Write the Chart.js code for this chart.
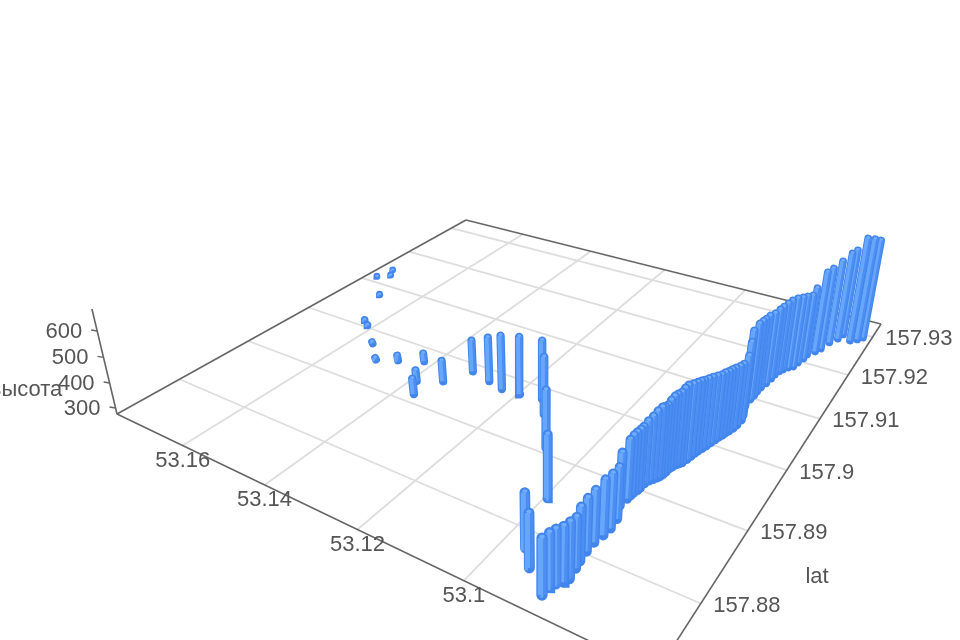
<!DOCTYPE html>
<html><head><meta charset="utf-8"><style>html,body{margin:0;background:#fff}canvas{display:block;filter:blur(0.55px)}</style>
<script src="https://cdn.jsdelivr.net/npm/chart.js@4"></script></head><body><canvas id="c" width="960" height="640"></canvas>
<script>
const latTicks=[157.88,157.89,157.9,157.91,157.92,157.93];
const lonTicks=[53.16,53.14,53.12,53.1];
const heightTicks=[300,400,500,600];
const latCodes=[9139,9125,9113,9072,9009,9001,8968,8942,8954,8968,8931,8909,8946,8980,8973,8967,8969,8974,8951,8903,8839,8774,8756,8736,8746,8752,
8757,8763,8776,8785,8798,8811,8823,8834,8848,8865,8877,8883,8888,8893,8897,8905,8911,8915,8919,8922,8926,8931,8937,8941,8946,8949,
8952,8959,8966,8972,8977,8983,8989,8996,9003,9009,9014,9019,9024,9031,9038,9049,9058,9075,9090,9099,9108,9118,9129,9141,9151,9160,
9166,9173,9178,9189,9201,9212,9223,9233,9252,9266,9279,9269,9276,9284];
const lonCodes=[1743,1729,1753,1683,1630,1610,1546,1498,1459,1413,1380,1356,1337,1310,1263,1227,1189,1146,1117,1061,989,957,930,887,886,882,
875,871,874,876,878,878,874,872,874,885,883,882,881,879,878,877,874,870,866,864,862,861,860,858,855,852,
849,846,844,842,840,837,834,831,828,826,823,821,818,815,813,812,815,823,823,822,822,821,818,816,815,812,
808,802,795,792,788,787,777,771,764,754,750,731,720,712];
const heights=[285,285,283,290,294,294,311,314,327,340,351,370,391,434,484,521,535,537,529,524,536,500,496,499,493,494,
497,501,483,494,492,490,502,500,491,497,519,523,524,526,528,533,540,553,562,560,559,567,571,572,572,583,
590,584,578,574,569,566,563,557,551,550,548,547,546,543,540,553,587,598,601,598,592,590,584,582,579,580,
585,586,586,576,565,579,632,637,644,662,660,728,721,710];
const latRange=[157.872,157.9337], lonRange=[53.07,53.178], zRange=[275.5,681];
const Q=[[117,414],[656,673],[881,324],[466,220]], VP=[541,2190], LAM=-1.376e-4;
const [x0,y0]=Q[0],[x1,y1]=Q[1],[x2,y2]=Q[2],[x3,y3]=Q[3];
const dx1=x1-x2,dx2=x3-x2,sx=x0-x1+x2-x3,dy1=y1-y2,dy2=y3-y2,sy=y0-y1+y2-y3,den=dx1*dy2-dx2*dy1;
const g=(sx*dy2-dx2*sy)/den,h=(dx1*sy-sx*dy1)/den;
const a=x1-x0+g*x1,b=x3-x0+h*x3,c=x0,d=y1-y0+g*y1,e=y3-y0+h*y3,f=y0;
function P(lat,lon,z){const u=(lonRange[1]-lon)/(lonRange[1]-lonRange[0]),v=(lat-latRange[0])/(latRange[1]-latRange[0]);
 const k=LAM*(z-zRange[0]);const W=g*u+h*v+1;return {x:(a*u+b*v+c+k*VP[0])/(W+k),y:(d*u+e*v+f+k*VP[1])/(W+k),w:W};}
const ds=[];
function line(pts,color,width,cap){ds.push({data:pts,borderColor:color,borderWidth:width,borderCapStyle:cap||'butt',showLine:true,pointRadius:0,fill:false});}
const LMIN=lonRange[0],LMAX=lonRange[1],AMIN=latRange[0],AMAX=latRange[1],Z0=zRange[0];
latTicks.forEach(t=>line([P(t,LMIN,Z0),P(t,LMAX,Z0)],'#dddddd',1.8));
lonTicks.forEach(t=>line([P(AMIN,t,Z0),P(AMAX,t,Z0)],'#dddddd',1.8));
[[AMIN,LMAX,AMAX,LMAX],[AMAX,LMAX,AMAX,LMIN],[AMIN,LMAX,AMIN,LMIN],[AMIN,LMIN,AMAX,LMIN]].forEach(s=>line([P(s[0],s[1],Z0),P(s[2],s[3],Z0)],'#666666',1.6));
line([P(AMIN,LMAX,zRange[0]),P(AMIN,LMAX,zRange[1])],'#666666',1.6);
heightTicks.forEach(t=>{const p=P(AMIN,LMAX,t);line([p,{x:p.x-6,y:p.y-1}],'#666666',1.4);});
const drawn=heights.map((z,i)=>{const lat=157+latCodes[i]/1e4,lon=53+lonCodes[i]/1e4;return {lat,lon,z,by:P(lat,lon,Z0).y};}).sort((m,n)=>m.by-n.by);
drawn.forEach(m=>{const B=P(m.lat,m.lon,Z0),T=P(m.lat,m.lon,m.z),w=8.6/B.w;
 const off=(p,o,i)=>({x:p.x+o,y:p.y+i});
 const ins=Math.min(w*.45,Math.abs(B.y-T.y)*.4);
 line([off(B,0,-ins),off(T,0,ins)],'#4285ec',w,'round');
 line([off(B,w*.24,-ins),off(T,w*.24,ins)],'#4c8ef2',w*.26,'butt');
 line([off(B,-w*.14,-ins),off(T,-w*.14,ins)],'#66a6fb',w*.48,'butt');
 line([off(T,-w*.08,ins*.7),off(T,w*.08,ins*.7)],'#72aeff',w*.32,'round');
});
const labels={id:'labels',afterDatasetsDraw(ch){const x=ch.ctx;x.save();x.fillStyle='#555';x.font='22px "Liberation Sans"';x.textBaseline='middle';
 x.textAlign='left';latTicks.forEach(t=>{const p=P(t,LMIN,Z0);x.fillText(String(t),p.x+12.5,p.y+2.5);});
 x.textAlign='center';lonTicks.forEach(t=>{const p=P(AMIN,t,Z0);x.fillText(String(t),p.x,p.y+15);});
 x.textAlign='right';heightTicks.forEach(t=>{const p=P(AMIN,LMAX,t);x.fillText(String(t),p.x-15,p.y+1);});
 x.textAlign='center';x.fillText('lat',817,577);x.fillText('высота',26,390);x.restore();}};
new Chart(document.getElementById('c'),{type:'scatter',data:{datasets:ds.reverse()},plugins:[labels],options:{responsive:false,animation:false,layout:{padding:0},plugins:{legend:{display:false},tooltip:{enabled:false}},
 scales:{x:{type:'linear',min:0,max:960,display:false},y:{type:'linear',min:0,max:640,reverse:true,display:false}}}});
</script></body></html>
